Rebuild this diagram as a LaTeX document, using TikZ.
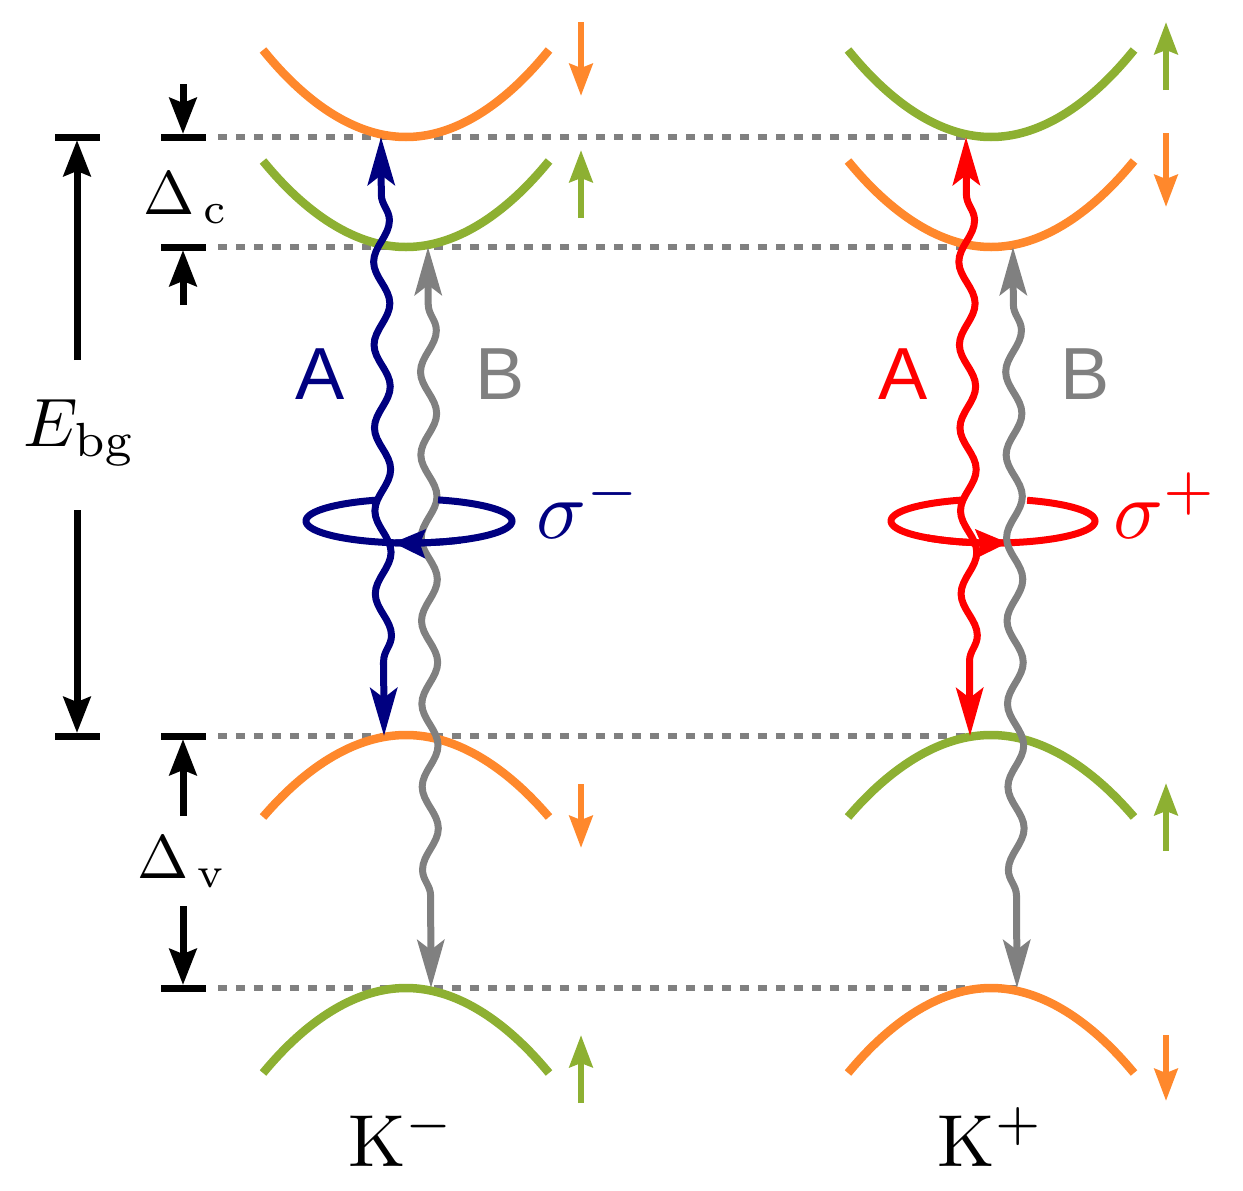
\documentclass[tikz,border=0pt]{standalone}
\usepackage[no-math]{fontspec}
\usepackage{graphicx}
\newfontfamily\sflab{Liberation Sans}
\usetikzlibrary{arrows.meta,decorations.pathmorphing}
\definecolor{bandorange}{RGB}{255,136,44}
\definecolor{bandgreen}{RGB}{141,176,50}
\definecolor{navyA}{RGB}{0,0,128}
\definecolor{redA}{RGB}{255,0,0}
\definecolor{grayB}{RGB}{128,128,128}
\begin{document}
\begin{tikzpicture}[x=0.02cm,y=-0.02cm,
  band/.style={line width=0.17cm},
  level/.style={draw=grayB,line width=0.11cm,dash pattern=on 0.18cm off 0.18cm},
  spin/.style={line width=0.13cm,-{Stealth[length=0.64cm,width=0.46cm,inset=0.08cm]}},
  dimarrow/.style={line width=0.14cm,-{Stealth[length=0.72cm,width=0.54cm,inset=0.1cm]}},
  dimbar/.style={line width=0.14cm},
  photon/.style={line width=0.14cm,
    {Stealth[length=0.96cm,width=0.54cm,inset=0.2cm]}-{Stealth[length=0.96cm,width=0.54cm,inset=0.2cm]},
    decorate,decoration={snake,amplitude=0.16cm,segment length=1.66cm,pre length=1.15cm,post length=1.05cm}},
  polar/.style={line width=0.14cm},
  polartip/.style={line width=0.14cm,-{Stealth[length=0.64cm,width=0.56cm,inset=0.1cm]}},
  lab/.style={inner sep=0pt,outer sep=0pt},
  big/.style={font=\fontsize{42}{48}\selectfont},
  ]
\useasboundingbox (0,0) rectangle (1243,1190);

% transition end points
\coordinate (LA1) at (381,137);
\coordinate (LA2) at (384,736);
\coordinate (LB1) at (428,247);
\coordinate (LB2) at (431,988);
\coordinate (RA1) at (966,137);
\coordinate (RA2) at (970,736);
\coordinate (RB1) at (1013,247);
\coordinate (RB2) at (1017,988);

% dashed levels
\coordinate (d1) at (218,137);
\coordinate (d2) at (218,247);
\coordinate (d3) at (218,736);
\coordinate (d4) at (218,988);
\draw[level] (d1) -- (RA1);
\draw[level] (d2) -- (RB1);
\draw[level] (d3) -- (RA2);
\draw[level] (d4) -- (RB2);

% bands K-
\draw[band,bandorange] (263,50) parabola bend (406,137) (549,50);
\draw[band,bandgreen] (263,161) parabola bend (406,247) (549,161);
\draw[band,bandorange] (263,817) parabola bend (406,735) (549,817);
\draw[band,bandgreen] (263,1073) parabola bend (406,988) (549,1073);
% bands K+
\draw[band,bandgreen] (848,50) parabola bend (991,137) (1134,50);
\draw[band,bandorange] (848,161) parabola bend (991,247) (1134,161);
\draw[band,bandgreen] (848,817) parabola bend (991,735) (1134,817);
\draw[band,bandorange] (848,1073) parabola bend (991,988) (1134,1073);

% spin arrows
\coordinate (s1a) at (581,22);   \coordinate (s1b) at (581,96);
\coordinate (s2a) at (581,218);  \coordinate (s2b) at (581,150);
\coordinate (s3a) at (581,784);  \coordinate (s3b) at (581,848);
\coordinate (s4a) at (581,1103); \coordinate (s4b) at (581,1035);
\coordinate (t1a) at (1166,90);  \coordinate (t1b) at (1166,22);
\coordinate (t2a) at (1166,133); \coordinate (t2b) at (1166,207);
\coordinate (t3a) at (1166,851); \coordinate (t3b) at (1166,783);
\coordinate (t4a) at (1166,1035);\coordinate (t4b) at (1166,1101);
\draw[spin,bandorange] (s1a) -- (s1b);
\draw[spin,bandgreen] (s2a) -- (s2b);
\draw[spin,bandorange] (s3a) -- (s3b);
\draw[spin,bandgreen] (s4a) -- (s4b);
\draw[spin,bandgreen] (t1a) -- (t1b);
\draw[spin,bandorange] (t2a) -- (t2b);
\draw[spin,bandgreen] (t3a) -- (t3b);
\draw[spin,bandorange] (t4a) -- (t4b);

% dimension markers
\draw[dimbar] (55,137) -- (100,137);
\draw[dimbar] (55,736) -- (100,736);
\coordinate (e1) at (77,360); \coordinate (e1t) at (77,140);
\coordinate (e2) at (77,510); \coordinate (e2t) at (77,733);
\draw[dimarrow] (e1) -- (e1t);
\draw[dimarrow] (e2) -- (e2t);
\node[lab,anchor=base] (ebg) at (80,446) {\scalebox{3.9}{$E_{\mathrm{bg}}$}};

\draw[dimbar] (161,137) -- (206,137);
\draw[dimbar] (161,247) -- (206,247);
\coordinate (c1) at (183,84);  \coordinate (c1t) at (183,134);
\coordinate (c2) at (183,305); \coordinate (c2t) at (183,250);
\draw[dimarrow] (c1) -- (c1t);
\draw[dimarrow] (c2) -- (c2t);
\node[lab,anchor=base] (dc) at (186,214) {\scalebox{3.5}{$\Delta_{\,\mathrm{c}}$}};

\draw[dimbar] (161,736) -- (206,736);
\draw[dimbar] (161,988) -- (206,988);
\coordinate (v1) at (183,816); \coordinate (v1t) at (183,739);
\coordinate (v2) at (183,906); \coordinate (v2t) at (183,985);
\draw[dimarrow] (v1) -- (v1t);
\draw[dimarrow] (v2) -- (v2t);
\node[lab,anchor=base] (dv) at (182,878) {\scalebox{3.5}{$\Delta_{\,\mathrm{v}}$}};

% K- transitions
\draw[photon,grayB] (LB1) -- (LB2);
\draw[photon,navyA] (LA1) -- (LA2);
\draw[polar,navyA] plot[domain=286.4:611.9,samples=120] ({409+103*cos(\x)},{521+22*sin(\x)});
\draw[polartip,navyA] plot[domain=420:459,samples=30] ({409+103*cos(\x)},{521+22*sin(\x)});
\node[lab,navyA,anchor=base west] (sm) at (536,538) {\scalebox{4.7}{$\sigma^{-}$}};
\node[lab,navyA,big] (aL) at (320,374) {\sflab A};
\node[lab,grayB,big] (bL) at (500,374) {\sflab B};

% K+ transitions
\draw[photon,redA] (RA1) -- (RA2);
\draw[polar,redA] plot[domain=289.5:614.1,samples=120] ({993+102*cos(\x)},{521+22*sin(\x)});
\draw[polartip,redA] plot[domain=-130:-81.5,samples=30] ({993+102*cos(-\x)},{521+22*sin(-\x)});
\draw[photon,grayB] (RB1) -- (RB2);
\node[lab,redA,anchor=base west] (sp) at (1113,538) {\scalebox{4.7}{$\sigma^{+}$}};
\node[lab,redA,big] (aR) at (903,374) {\sflab A};
\node[lab,grayB,big] (bR) at (1085,374) {\sflab B};

% valley labels
\node[lab,anchor=base] (km) at (402,1166) {\scalebox{4.2}{$\mathrm{K}^{-}$}};
\node[lab,anchor=base] (kp) at (991,1166) {\scalebox{4.2}{$\mathrm{K}^{+}$}};
\end{tikzpicture}
\end{document}
